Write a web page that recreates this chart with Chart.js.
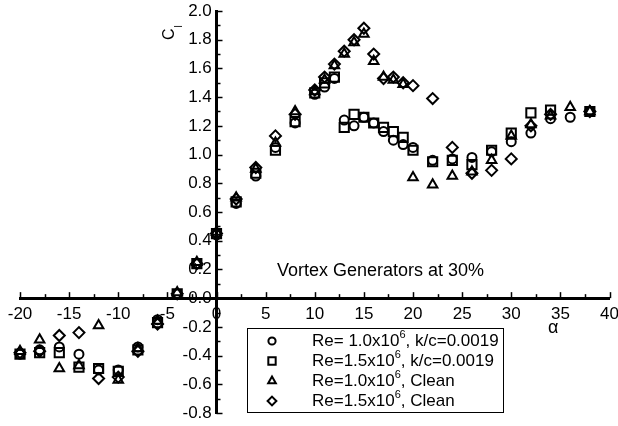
<!DOCTYPE html>
<html>
<head>
<meta charset="utf-8">
<script src="https://cdn.jsdelivr.net/npm/chart.js@4.4.0/dist/chart.umd.min.js"></script>
<style>
  html, body { margin: 0; padding: 0; background: #fff; }
  #wrap { width: 618px; height: 426px; }
</style>
</head>
<body>
<div id="wrap"><canvas id="clChart"></canvas></div>
<script>
// Angle of attack (deg)
const alpha = [-20, -18, -16, -14, -12, -10, -8, -6, -4, -2,
  0, 2, 4, 6, 8, 10,
  11, 12, 13, 14, 15, 16, 17, 18, 19, 20,
  22, 24, 26, 28, 30, 32, 34, 36, 38];

// Lift coefficient per configuration
const clRe10Rough = [-0.39, -0.36, -0.34, -0.39, -0.50, -0.50, -0.34, -0.15, 0.03, 0.24,
  0.44, 0.66, 0.85, 1.05, 1.22, 1.42,
  1.47, 1.53, 1.24, 1.20, 1.26, 1.22, 1.16, 1.10, 1.07, 1.05,
  0.96, 0.97, 0.98, 1.02, 1.09, 1.15, 1.25, 1.26, 1.30];
const clRe15Rough = [-0.39, -0.38, -0.38, -0.48, -0.49, -0.51, -0.36, -0.17, 0.03, 0.24,
  0.45, 0.67, 0.87, 1.03, 1.23, 1.43,
  1.50, 1.54, 1.19, 1.28, 1.26, 1.22, 1.19, 1.16, 1.12, 1.03,
  0.95, 0.96, 0.93, 1.03, 1.15, 1.29, 1.31, null, 1.30];
const clRe10Clean = [-0.37, -0.29, -0.49, -0.47, -0.19, -0.57, -0.35, -0.16, 0.04, 0.25,
  0.46, 0.70, 0.90, 1.08, 1.30, 1.44,
  1.52, 1.62, 1.70, 1.78, 1.84, 1.65, 1.54, 1.52, 1.49, 0.84,
  0.79, 0.85, 0.88, 0.96, 1.13, 1.21, 1.27, 1.33, 1.30];
const clRe15Clean = [-0.38, -0.37, -0.26, -0.24, -0.56, -0.55, -0.37, -0.18, 0.03, 0.24,
  0.45, 0.69, 0.91, 1.13, 1.28, 1.45,
  1.54, 1.63, 1.72, 1.80, 1.88, 1.70, 1.53, 1.54, 1.50, 1.48,
  1.39, 1.05, 0.87, 0.89, 0.97, 1.20, 1.28, null, 1.30];

// Legend entries: [base, exponent, rest]
const seriesLabels = [
  ['Re= 1.0x10', '6', ', k/c=0.0019'],
  ['Re=1.5x10', '6', ', k/c=0.0019'],
  ['Re=1.0x10', '6', ', Clean'],
  ['Re=1.5x10', '6', ', Clean']
];
const seriesMarkers = ['circle', 'rect', 'triangle', 'rectRot'];
const seriesRadius = [4.5, 6.5, 5.5, 5.5];
const seriesValues = [clRe10Rough, clRe15Rough, clRe10Clean, clRe15Clean];

const annotationText = 'Vortex Generators at 30%';
const FONT = '"Liberation Sans", Arial, sans-serif';

function toPoints(values) {
  const pts = [];
  values.forEach((v, i) => {
    if (v !== null) pts.push({ x: alpha[i], y: v });
  });
  return pts;
}

// Draws a marker shape with the given radius
function marker(ctx, style, x, y, r) {
  ctx.beginPath();
  if (style === 'circle') {
    ctx.arc(x, y, r, 0, Math.PI * 2);
  } else if (style === 'rect') {
    const s = r * Math.SQRT1_2;
    ctx.rect(x - s, y - s, 2 * s, 2 * s);
  } else if (style === 'triangle') {
    ctx.moveTo(x, y - r);
    ctx.lineTo(x + r * 0.866, y + r * 0.5);
    ctx.lineTo(x - r * 0.866, y + r * 0.5);
    ctx.closePath();
  } else {
    ctx.moveTo(x, y - r);
    ctx.lineTo(x + r, y);
    ctx.lineTo(x, y + r);
    ctx.lineTo(x - r, y);
    ctx.closePath();
  }
  ctx.stroke();
}

// Tick marks, axis titles, note and legend box
const extras = {
  id: 'extras',
  afterDraw(chart) {
    const ctx = chart.ctx;
    const xs = chart.scales.x;
    const ys = chart.scales.y;
    const x0 = xs.getPixelForValue(0);
    const y0 = ys.getPixelForValue(0);
    ctx.save();
    ctx.strokeStyle = '#000';
    ctx.lineWidth = 1.5;
    // y ticks to the right of the axis
    for (let k = -8; k <= 20; k++) {
      const py = Math.round(ys.getPixelForValue(k / 10)) + 0.5;
      const len = k % 2 === 0 ? 6 : 4;
      ctx.beginPath();
      ctx.moveTo(x0, py);
      ctx.lineTo(x0 + len, py);
      ctx.stroke();
    }
    // x ticks above the axis
    for (let k = -8; k <= 16; k++) {
      const px = Math.round(xs.getPixelForValue(k * 2.5)) + 0.5;
      const len = k % 2 === 0 ? 6 : 4;
      ctx.beginPath();
      ctx.moveTo(px, y0);
      ctx.lineTo(px, y0 - len);
      ctx.stroke();
    }

    ctx.fillStyle = '#000';
    // C_l, written upward
    ctx.save();
    ctx.translate(174, 40);
    ctx.rotate(-Math.PI / 2);
    ctx.font = '16px ' + FONT;
    ctx.textAlign = 'left';
    ctx.textBaseline = 'alphabetic';
    ctx.fillText('C', 0, 0);
    const cw = ctx.measureText('C').width;
    ctx.font = '10px ' + FONT;
    ctx.fillText('l', cw + 1, 8);
    ctx.restore();

    // alpha
    ctx.font = '18px ' + FONT;
    ctx.textAlign = 'left';
    ctx.textBaseline = 'alphabetic';
    ctx.fillText('\u03b1', 548, 333);

    // note
    ctx.font = '18px ' + FONT;
    ctx.fillText(annotationText, 277, 276);

    // legend
    const box = { left: 247.5, top: 328.5, right: 503.5, bottom: 412.5 };
    ctx.fillStyle = '#fff';
    ctx.fillRect(box.left, box.top, box.right - box.left, box.bottom - box.top);
    ctx.lineWidth = 1;
    ctx.strokeStyle = '#000';
    ctx.strokeRect(box.left, box.top, box.right - box.left, box.bottom - box.top);
    ctx.fillStyle = '#000';
    ctx.lineWidth = 2;
    seriesLabels.forEach((lab, i) => {
      const cy = 341 + i * 20;
      marker(ctx, seriesMarkers[i], 272, cy, seriesRadius[i] * 0.8);
      let tx = 312;
      ctx.font = '17px ' + FONT;
      ctx.textBaseline = 'middle';
      ctx.fillText(lab[0], tx, cy);
      tx += ctx.measureText(lab[0]).width;
      ctx.font = '11px ' + FONT;
      ctx.fillText(lab[1], tx, cy - 6);
      tx += ctx.measureText(lab[1]).width;
      ctx.font = '17px ' + FONT;
      ctx.fillText(lab[2], tx, cy);
    });
    ctx.restore();
  }
};

const ctx = document.getElementById('clChart').getContext('2d');

new Chart(ctx, {
  type: 'scatter',
  data: {
    datasets: seriesValues.map((vals, i) => ({
      label: seriesLabels[i].join(''),
      data: toPoints(vals),
      pointStyle: seriesMarkers[i],
      pointRadius: seriesRadius[i],
      pointBorderWidth: 2,
      pointBorderColor: '#000',
      pointBackgroundColor: 'rgba(0,0,0,0)',
      clip: false
    }))
  },
  options: {
    responsive: true,
    maintainAspectRatio: false,
    animation: false,
    layout: { padding: { left: 20, top: 11, right: 7, bottom: 13 } },
    plugins: {
      legend: { display: false },
      tooltip: { enabled: false }
    },
    scales: {
      x: {
        type: 'linear',
        position: { y: 0 },
        min: -20,
        max: 40,
        grid: { display: false, drawTicks: false },
        border: { display: true, color: '#000', width: 3 },
        ticks: {
          stepSize: 5,
          padding: 6,
          color: '#000',
          font: { family: FONT, size: 17 },
          maxRotation: 0,
          autoSkip: false
        },
        afterFit: s => { s.paddingLeft = 0; s.paddingRight = 0; }
      },
      y: {
        type: 'linear',
        position: { x: 0 },
        min: -0.8,
        max: 2.0,
        grid: { display: false, drawTicks: false },
        border: { display: true, color: '#000', width: 3 },
        ticks: {
          stepSize: 0.2,
          color: '#000',
          font: { family: FONT, size: 17 },
          autoSkip: false,
          // trailing space keeps the label clear of the axis line
          callback: v => (Math.abs(v) < 1e-9 ? '-0.0' : v.toFixed(1)) + ' '
        },
        afterFit: s => { s.paddingTop = 0; s.paddingBottom = 0; }
      }
    }
  },
  plugins: [extras]
});
</script>
</body>
</html>
